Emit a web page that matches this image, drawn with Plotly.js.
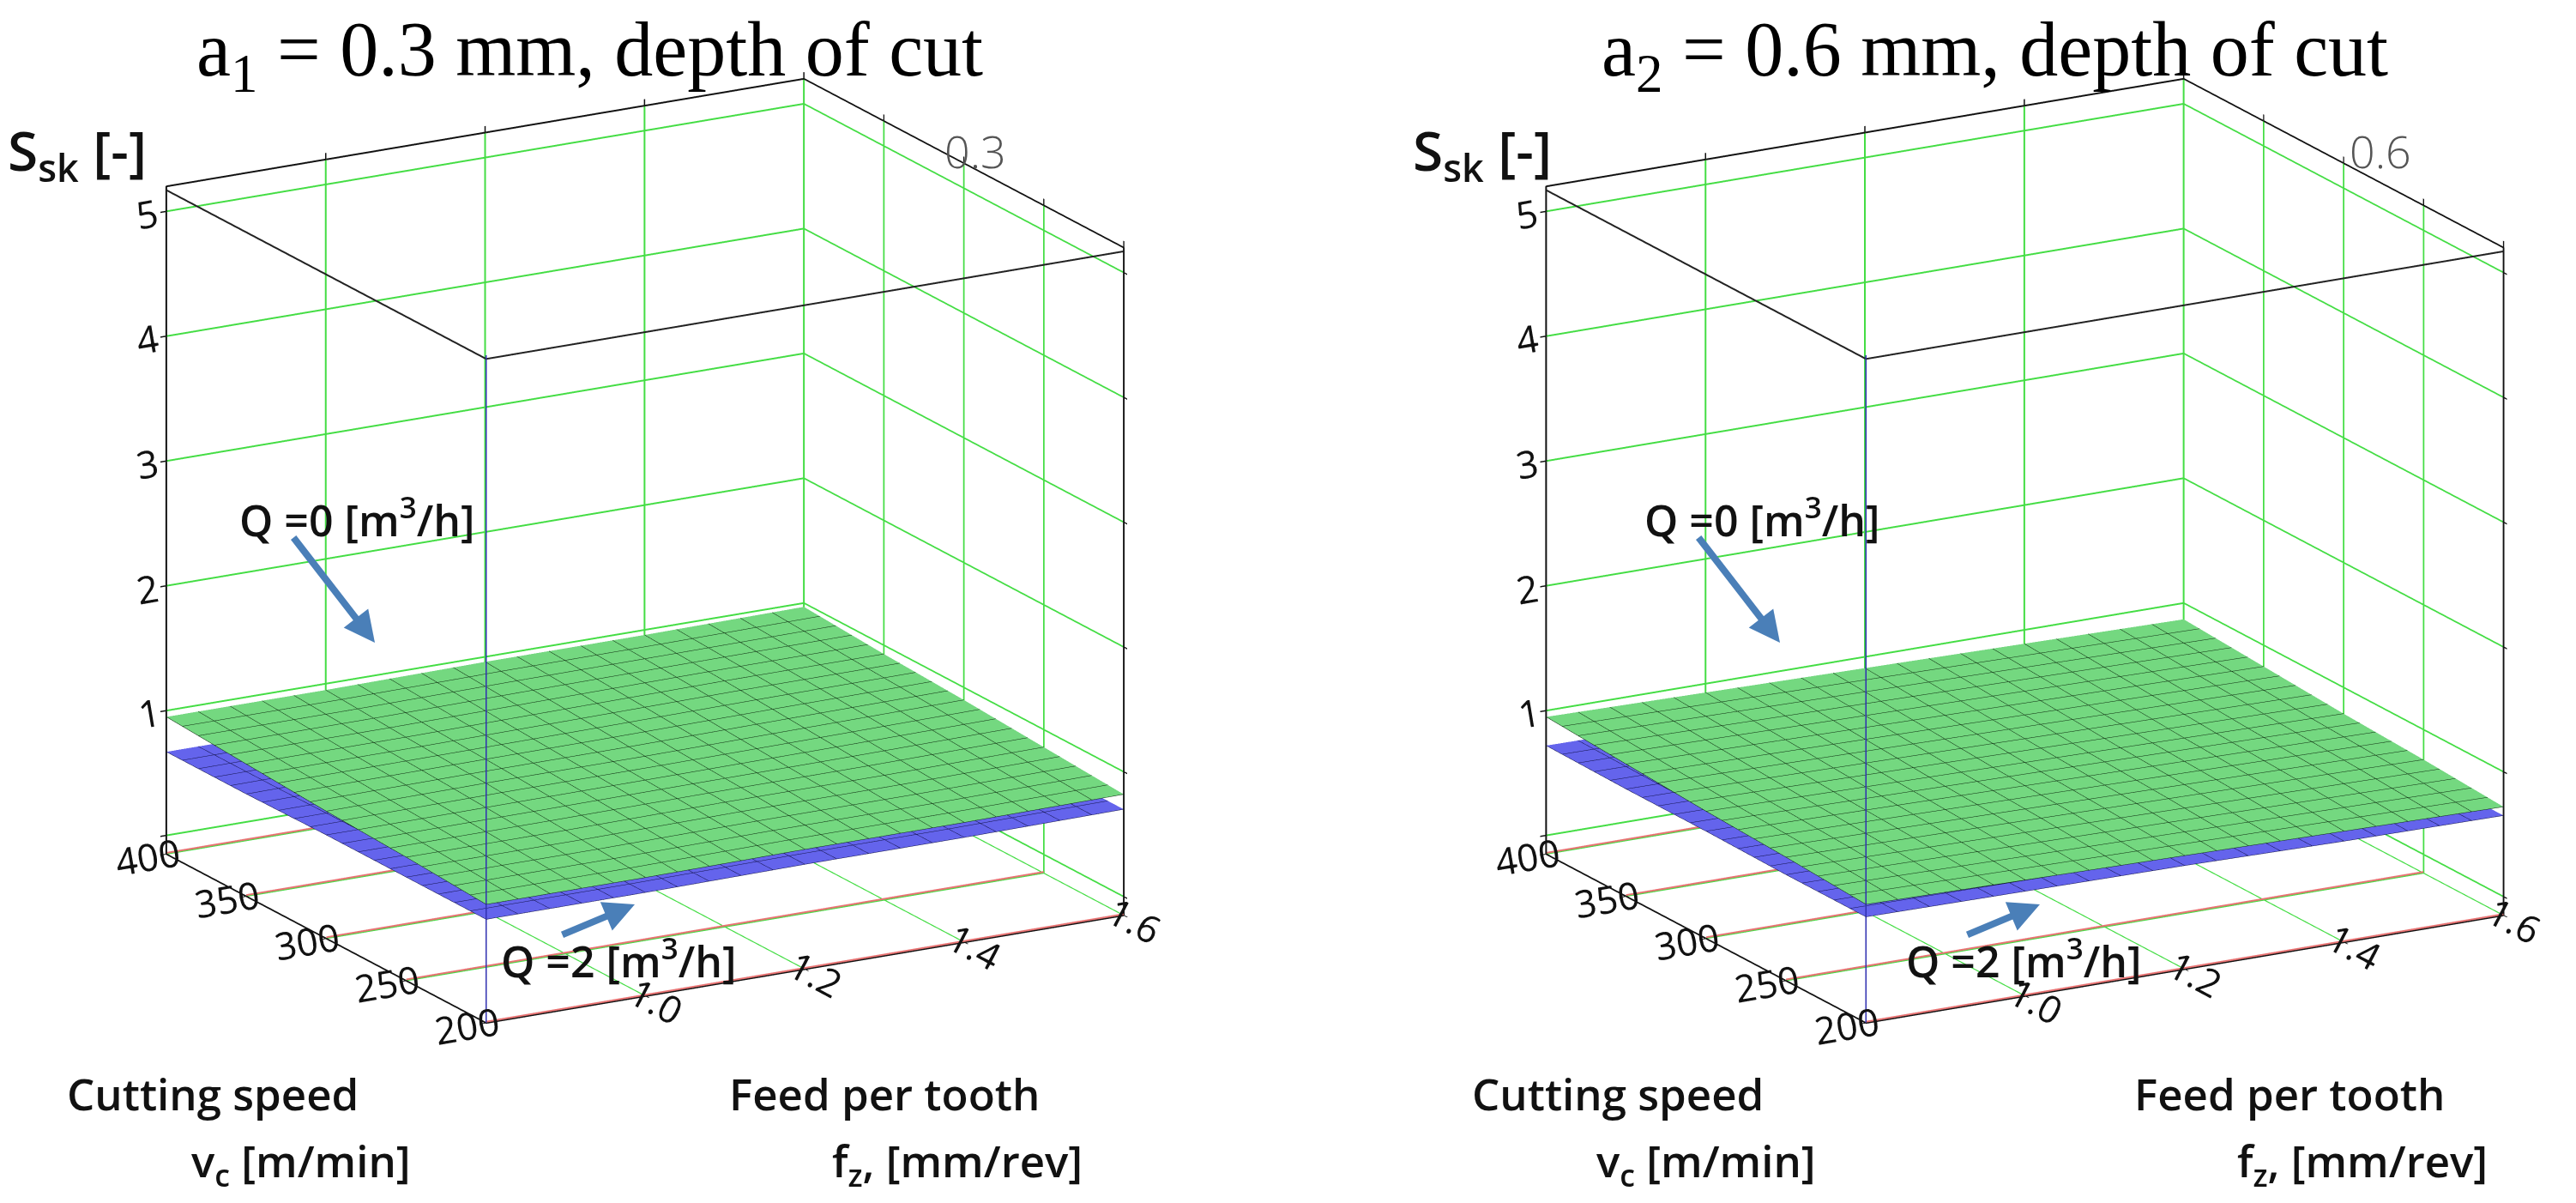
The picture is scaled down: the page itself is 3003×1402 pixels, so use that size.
<!DOCTYPE html>
<html>
<head>
<meta charset="utf-8">
<script src="https://cdn.plot.ly/plotly-3.0.1.min.js"></script>
<style>
  html, body { margin: 0; padding: 0; background: #fff; }
  #chart { width: 3003px; height: 1402px; }
</style>
</head>
<body>
<div id="chart"></div>
<script>
'use strict';
/* axes */
var fz = [0.8, 1.0, 1.2, 1.4, 1.6];          // feed per tooth [mm/rev]
var vc = [200, 250, 300, 350, 400];          // cutting speed [m/min]
var fz_ticks = [1.0, 1.2, 1.4, 1.6];
var fz_labels = ['1.0', '1.2', '1.4', '1.6'];
var vc_ticks = [200, 250, 300, 350, 400];
var z_ticks = [0, 1, 2, 3, 4, 5];
var z_labels = ['', '1', '2', '3', '4', '5'];
var z_range = [-0.15, 5.2];

/* Ssk, rows = vc, cols = fz ; a1 = 0.3 mm */
var ssk_a1_q0 = [
  [0.80, 0.80, 0.81, 0.81, 0.82],
  [0.84, 0.84, 0.85, 0.85, 0.86],
  [0.87, 0.88, 0.88, 0.89, 0.90],
  [0.91, 0.91, 0.92, 0.93, 0.93],
  [0.95, 0.95, 0.96, 0.96, 0.97]
];
var ssk_a1_q2 = [
  [0.68, 0.68, 0.69, 0.69, 0.70],
  [0.68, 0.68, 0.69, 0.69, 0.70],
  [0.68, 0.68, 0.68, 0.69, 0.69],
  [0.67, 0.68, 0.68, 0.69, 0.69],
  [0.67, 0.67, 0.68, 0.68, 0.69]
];
/* a2 = 0.6 mm */
var ssk_a2_q0 = [
  [0.80, 0.78, 0.76, 0.74, 0.72],
  [0.84, 0.82, 0.80, 0.78, 0.76],
  [0.87, 0.85, 0.83, 0.81, 0.79],
  [0.91, 0.89, 0.87, 0.85, 0.83],
  [0.95, 0.93, 0.91, 0.89, 0.87]
];
var ssk_a2_q2 = [
  [0.70, 0.69, 0.68, 0.66, 0.65],
  [0.70, 0.69, 0.68, 0.67, 0.65],
  [0.71, 0.70, 0.69, 0.67, 0.66],
  [0.71, 0.70, 0.69, 0.68, 0.66],
  [0.72, 0.71, 0.70, 0.68, 0.67]
];

var GREEN = '#74d880', GREEN_LINE = '#0c2a0e';
var BLUE = '#6464ec', BLUE_LINE = '#12124a';
var GRID = '#44dd44';
var SANS = 'Open Sans, sans-serif';
var TICK_FONT = {family: SANS, size: 23, color: '#111'};

function surf(z, col, lineCol, scene) {
  return {
    type: 'surface', x: fz, y: vc, z: z, scene: scene,
    colorscale: [[0, col], [1, col]], showscale: false,
    lighting: {ambient: 1, diffuse: 0, specular: 0, roughness: 1, fresnel: 0},
    hoverinfo: 'skip',
    contours: {
      x: {show: true, start: fz[0], end: fz[fz.length - 1], size: 0.04, color: lineCol, width: 5, highlight: false},
      y: {show: true, start: vc[0], end: vc[vc.length - 1], size: 10, color: lineCol, width: 5, highlight: false},
      z: {show: false, highlight: false}
    }
  };
}

function line3d(scene, x, y, z, color, width) {
  return {type: 'scatter3d', mode: 'lines', scene: scene, hoverinfo: 'skip', showlegend: false,
    x: x, y: y, z: z, line: {color: color, width: width}};
}

// red floor lines at every vc tick, blue front edge, top front edges of the box
function decor(scene) {
  var x0 = fz[0], x1 = fz[fz.length - 1], y0 = vc[0], y1 = vc[vc.length - 1];
  var zt = z_range[1] - 0.03;
  var out = [];
  vc_ticks.forEach(function (v) {
    out.push(line3d(scene, [x0, x1], [v, v], [z_range[0] + 0.01, z_range[0] + 0.01], '#e87474', 4));
  });
  out.push(line3d(scene, [x0, x0, x1], [y1, y0, y0], [zt, zt, zt], '#222', 4));
  out.push(line3d(scene, [x0, x0], [y0, y0], z_range, '#3030b0', 3));
  return out;
}

function axis(extra) {
  var a = {
    showline: true, linecolor: '#111', linewidth: 4, mirror: 'all',
    showgrid: true, gridcolor: GRID, gridwidth: 4,
    zeroline: false, showbackground: false, showspikes: false,
    ticks: 'outside', ticklen: 8, tickcolor: '#111', tickwidth: 3,
    tickfont: TICK_FONT, title: {text: ''}
  };
  for (var k in extra) a[k] = extra[k];
  return a;
}

function scene(dx) {
  return {
    domain: {x: dx, y: [0.084, 1.0]},
    xaxis: axis({range: [fz[0], fz[fz.length - 1]], tickmode: 'array', tickvals: fz_ticks, ticktext: fz_labels}),
    yaxis: axis({range: [vc[0], vc[vc.length - 1]], tickmode: 'array', tickvals: vc_ticks}),
    zaxis: axis({range: z_range, tickmode: 'array', tickvals: z_ticks, ticktext: z_labels}),
    aspectmode: 'manual', aspectratio: {x: 1.33, y: 1.18, z: 1.27},
    camera: {eye: {x: -0.704, y: -1.245, z: 0.447}, center: {x: 0, y: 0, z: 0},
      projection: {type: 'orthographic'}}
  };
}

var data = [
  surf(ssk_a1_q2, BLUE, BLUE_LINE, 'scene'),
  surf(ssk_a1_q0, GREEN, GREEN_LINE, 'scene'),
  surf(ssk_a2_q2, BLUE, BLUE_LINE, 'scene2'),
  surf(ssk_a2_q0, GREEN, GREEN_LINE, 'scene2')
].concat(decor('scene'), decor('scene2'));

var W = 3003, H = 1402;
function px(x) { return x / W; }
function py(y) { return 1 - y / H; }

var LABEL_FONT = {family: SANS, size: 51, weight: 600, color: '#111'};
var Q_FONT = {family: SANS, size: 50, weight: 600, color: '#111'};
var TITLE_FONT = {family: 'Liberation Serif, DejaVu Serif, serif', size: 90, color: '#000'};
var ARROW = '#4a7fb8';

function txt(x, y, t, f) {
  return {xref: 'paper', yref: 'paper', x: px(x), y: py(y), text: t, showarrow: false, font: f, xanchor: 'center', yanchor: 'middle'};
}
function arrow(x, y, ax, ay) {
  return {xref: 'paper', yref: 'paper', x: px(x), y: py(y), ax: ax, ay: ay, text: '', showarrow: true,
    arrowhead: 2, arrowsize: 0.9, arrowwidth: 8, arrowcolor: ARROW};
}

var annos = [];
[[0, 'a<sub>1</sub> = 0.3 mm, depth of cut', '0.3'], [1638, 'a<sub>2</sub> = 0.6 mm, depth of cut', '0.6']].forEach(function (p) {
  var o = p[0];
  annos.push(txt(687 + o, 65, p[1], TITLE_FONT));
  annos.push(txt(90 + o, 178, 'S<sub>sk</sub> [-]', {family: SANS, size: 64, weight: 600, color: '#111'}));
  annos.push(txt(1137 + o, 176, p[2], {family: SANS, size: 52, weight: 300, color: '#555'}));
  annos.push(txt(248 + o, 1274, 'Cutting speed', LABEL_FONT));
  annos.push(txt(351 + o, 1355, 'v<sub>c</sub> [m/min]', LABEL_FONT));
  annos.push(txt(1031 + o, 1274, 'Feed per tooth', LABEL_FONT));
  annos.push(txt(1116 + o, 1355, 'f<sub>z</sub>, [mm/rev]', LABEL_FONT));
  annos.push(txt(416 + o, 603, 'Q =0 [m<sup>3</sup>/h]', Q_FONT));
  annos.push(txt(721 + o, 1117, 'Q =2 [m<sup>3</sup>/h]', Q_FONT));
  annos.push(arrow(437 + o, 749, -96, -124));
  annos.push(arrow(740 + o, 1054, -86, 36));
});

var layout = {
  width: W, height: H,
  margin: {l: 0, r: 0, t: 0, b: 0},
  paper_bgcolor: '#fff',
  showlegend: false,
  scene: scene([0.0, 0.5008]),
  scene2: scene([0.572, 1.0]),
  annotations: annos
};

Plotly.newPlot('chart', data, layout, {displayModeBar: false});
</script>
</body>
</html>
